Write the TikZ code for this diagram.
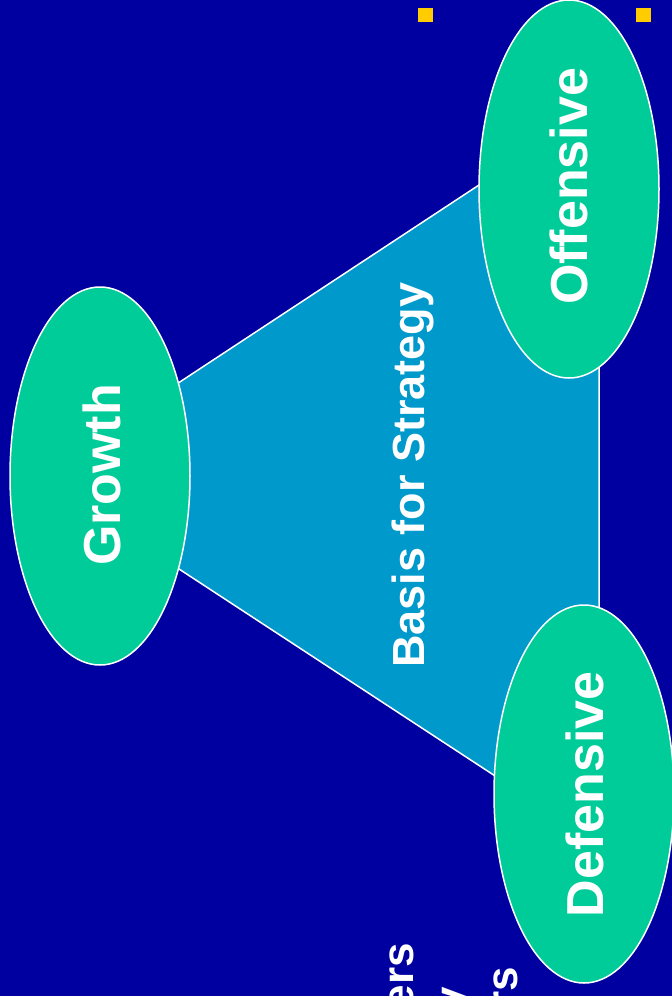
\documentclass[tikz,border=0pt]{standalone}
\usepackage{fontspec}
\setmainfont{Liberation Sans}
\usetikzlibrary{shapes.geometric}

\definecolor{slidebg}{RGB}{0,0,160}
\definecolor{basefill}{RGB}{0,153,204}
\definecolor{ovalfill}{RGB}{0,204,153}
\definecolor{bulletyellow}{RGB}{255,204,0}

\tikzset{
  oval/.style={ellipse, draw=white, line width=1.5pt, fill=ovalfill,
    minimum width=180pt, minimum height=378pt, inner sep=0pt},
  ovaltext/.style={rotate=90, anchor=base, inner sep=0pt, text=white,
    font=\bfseries\fontsize{52}{60}\selectfont},
  basetext/.style={rotate=90, anchor=base, inner sep=0pt, text=white,
    font=\bfseries\fontsize{45}{52}\selectfont},
  bodytext/.style={rotate=90, anchor=base east, inner sep=0pt, text=white,
    font=\bfseries\fontsize{44}{52}\selectfont},
  bullet/.style={fill=bulletyellow, draw=none, minimum width=15pt,
    minimum height=14pt, inner sep=0pt},
}

\begin{document}
\begin{tikzpicture}[x=1pt, y=-1pt]
  % slide background, fixes the page size
  \fill[slidebg] (0,0) rectangle (672,996);
  \useasboundingbox (0,0) rectangle (672,996);

  % bullet markers
  \node[bullet] (b1) at (425.5,15) {};
  \node[bullet] (b2) at (643.5,15) {};

  % triangle corners
  \coordinate (tA) at (37,476);
  \coordinate (tB) at (599,106);
  \coordinate (tC) at (599,844);
  \draw[white, line width=1.5pt, fill=basefill, line join=miter] (tA) -- (tB) -- (tC) -- cycle;

  % the three ovals
  \node[oval] (growth) at (100,476) {};
  \node[oval] (offensive) at (569,189) {};
  \node[oval] (defensive) at (584,794) {};

  \node[ovaltext] (growthlbl) at (120,475) {Growth};
  \node[ovaltext] (offlbl) at (587,186.5) {Offensive};
  \node[ovaltext] (deflbl) at (603,794.5) {Defensive};

  \node[basetext] (basis) at (424,475) {Basis for Strategy};

  % body text lines running off the lower edge
  \begin{scope}
    \clip (0,0) rectangle (672,996);
    \node[bodytext] (line1) at (413,943) {ers};
    \node[bodytext] (line2) at (465,987) {y};
    \node[bodytext] (line3) at (517,967) {rs};
  \end{scope}
\end{tikzpicture}
\end{document}
